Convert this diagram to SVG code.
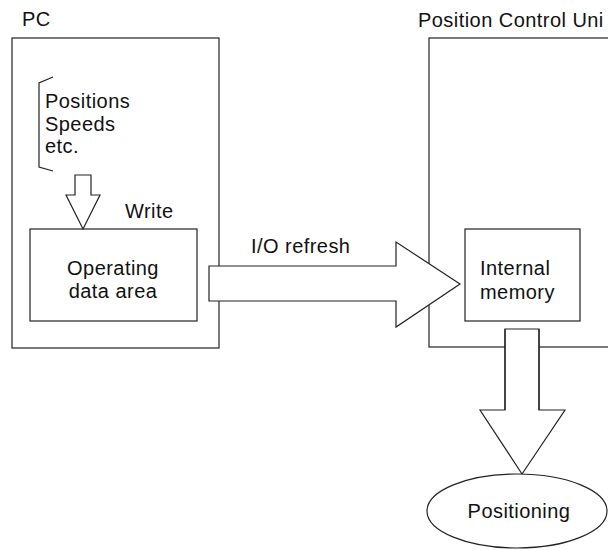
<svg xmlns="http://www.w3.org/2000/svg" width="608" height="550" viewBox="0 0 608 550">
<style>
.box{fill:#fff;stroke:#222;stroke-width:1.2}
.arr{fill:#fff;stroke:#222;stroke-width:1.2;stroke-linejoin:miter}
.ln{fill:none;stroke:#222;stroke-width:1.2}
.t{font-family:"Liberation Sans",Arial,Helvetica,sans-serif;font-size:20px;letter-spacing:0.45px;fill:#111}
</style>
<rect width="608" height="550" fill="#fff"/>
<g id="pc">
<text class="t" x="22" y="26">PC</text>
<rect class="box" x="12" y="38" width="207" height="310"/>
</g>
<g id="pcu">
<text class="t" x="418" y="27">Position Control Uni</text>
<rect class="box" x="429" y="38" width="200" height="309"/>
</g>
<g id="data-list">
<path class="ln" d="M53,77 L39,83 L39,167 L53,171"/>
<text class="t" x="45" y="108">Positions</text>
<text class="t" x="45" y="131">Speeds</text>
<text class="t" x="45" y="153">etc.</text>
</g>
<g id="operating-data-area">
<rect class="box" x="30" y="229" width="167" height="92"/>
<text class="t" x="113" y="275" text-anchor="middle">Operating</text>
<text class="t" x="113" y="298" text-anchor="middle">data area</text>
</g>
<g id="internal-memory">
<rect class="box" x="465" y="229" width="115" height="92"/>
<text class="t" x="480" y="275">Internal</text>
<text class="t" x="480" y="299">memory</text>
</g>
<g id="connectors">
<g id="write-arrow">
<polygon class="arr" points="75,175 91,175 91,195 100,195 83,229 66,195 75,195"/>
<text class="t" x="125" y="218">Write</text>
</g>
<g id="io-refresh-arrow">
<polygon class="arr" points="209,266 396,266 396,242 460,284 396,327 396,301 209,301"/>
<text class="t" x="251" y="253">I/O refresh</text>
</g>
<g id="positioning-arrow">
<polygon class="arr" points="505,329 539,329 539,410 565,410 522,474 480,410 505,410"/>
<path class="ln" d="M505,329 V410 M539,329 V410" stroke-width="2.4"/>
</g>
</g>
<g id="positioning">
<ellipse class="box" cx="517" cy="511" rx="90" ry="37"/>
<text class="t" x="519" y="518" text-anchor="middle">Positioning</text>
</g>
</svg>
